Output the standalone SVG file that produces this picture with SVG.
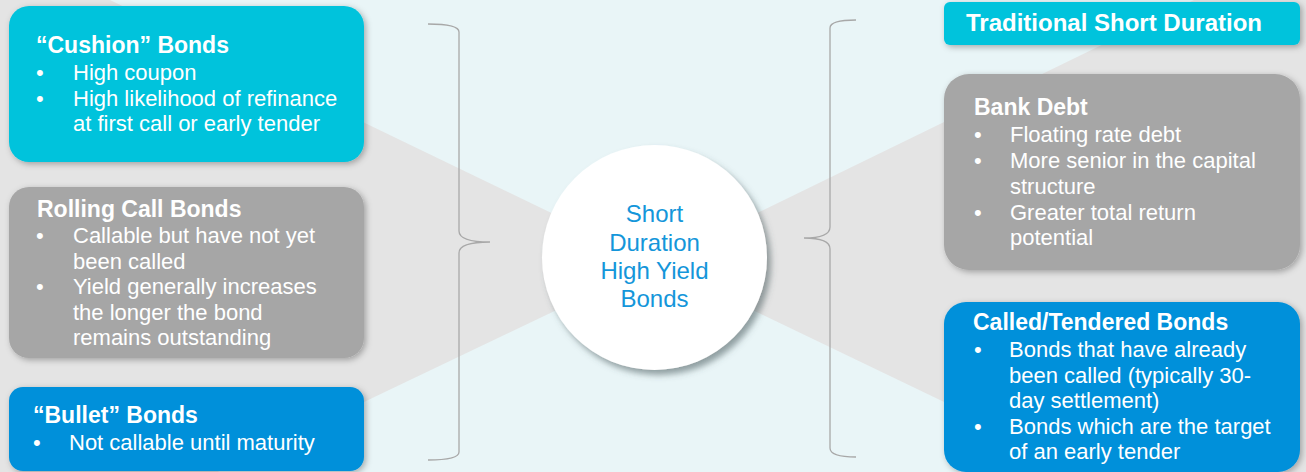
<svg xmlns="http://www.w3.org/2000/svg" width="1306" height="472" viewBox="0 0 1306 472">
<defs>
<style>
.t{font-family:"Liberation Sans",Arial,sans-serif;fill:#fff;font-size:22px}
.h{font-family:"Liberation Sans",Arial,sans-serif;fill:#fff;font-size:23px;font-weight:bold}
.c{font-family:"Liberation Sans",Arial,sans-serif;fill:#1496DA;font-size:24px;text-anchor:middle}
.brace{fill:none;stroke:#A8A8A8;stroke-width:1.3}
.cyan{fill:#00C3DC}
.gray{fill:#A6A6A6}
.blue{fill:#0090DA}
</style>
<filter id="sh" x="-10%" y="-10%" width="125%" height="130%">
<feDropShadow dx="2" dy="2" stdDeviation="3" flood-color="#000" flood-opacity="0.3"/>
</filter>
<filter id="shc" x="-20%" y="-20%" width="145%" height="145%">
<feDropShadow dx="4" dy="5" stdDeviation="3" flood-color="#4a5a5c" flood-opacity="0.55"/>
</filter>
</defs>
<rect x="0" y="0" width="1306" height="472" fill="#E9F5F7"/>
<polygon points="0,0 110,0 655,263 0,576" fill="#E4E4E4"/>
<polygon points="1306,0 1194,0 655,263 1306,576" fill="#E4E4E4"/>

<g id="connectors">
<path class="brace" d="M428,24 Q459,24 459,32 L459,231 Q459,242 490,242 Q459,242 459,253 L459,452 Q459,460 428,460"/>
<path class="brace" d="M856,20 Q830,20 830,28 L830,227 Q830,238 804,238 Q830,238 830,249 L830,448 Q830,457 856,457"/>
</g>

<g id="center">
<circle cx="654.5" cy="257.5" r="112.5" fill="#fff" filter="url(#shc)"/>
<text class="c" x="654.5" y="222">Short</text>
<text class="c" x="654.5" y="251">Duration</text>
<text class="c" x="654.5" y="279">High Yield</text>
<text class="c" x="654.5" y="307">Bonds</text>
</g>

<g id="cushion">
<rect class="cyan" x="9" y="6" width="355" height="156" rx="20" filter="url(#sh)"/>
<text class="h" x="36" y="53">“Cushion” Bonds</text>
<text class="t" x="36" y="80">•</text><text class="t" x="73" y="80">High coupon</text>
<text class="t" x="36" y="106">•</text><text class="t" x="73" y="106">High likelihood of refinance</text>
<text class="t" x="73" y="131">at first call or early tender</text>
</g>

<g id="rolling">
<rect class="gray" x="9" y="187" width="355" height="171" rx="20" filter="url(#sh)"/>
<text class="h" x="37" y="217">Rolling Call Bonds</text>
<text class="t" x="36" y="243">•</text><text class="t" x="73" y="243">Callable but have not yet</text>
<text class="t" x="73" y="269">been called</text>
<text class="t" x="36" y="294">•</text><text class="t" x="73" y="294">Yield generally increases</text>
<text class="t" x="73" y="320">the longer the bond</text>
<text class="t" x="73" y="345">remains outstanding</text>
</g>

<g id="bullet">
<rect class="blue" x="9" y="387" width="355" height="84" rx="14" filter="url(#sh)"/>
<text class="h" x="33" y="423">“Bullet” Bonds</text>
<text class="t" x="33" y="450">•</text><text class="t" x="69" y="450">Not callable until maturity</text>
</g>

<g id="traditional">
<rect class="cyan" x="944" y="2" width="356" height="43" rx="6" filter="url(#sh)"/>
<text class="h" x="966" y="31" style="font-size:24px">Traditional Short Duration</text>
</g>

<g id="bankdebt">
<rect class="gray" x="944" y="74" width="356" height="196" rx="25" filter="url(#sh)"/>
<text class="h" x="974" y="115">Bank Debt</text>
<text class="t" x="974" y="142">•</text><text class="t" x="1010" y="142">Floating rate debt</text>
<text class="t" x="974" y="168">•</text><text class="t" x="1010" y="168">More senior in the capital</text>
<text class="t" x="1010" y="194">structure</text>
<text class="t" x="974" y="220">•</text><text class="t" x="1010" y="220">Greater total return</text>
<text class="t" x="1010" y="245">potential</text>
</g>

<g id="called">
<rect class="blue" x="944" y="302" width="356" height="170" rx="22" filter="url(#sh)"/>
<text class="h" x="973" y="330">Called/Tendered Bonds</text>
<text class="t" x="974" y="357">•</text><text class="t" x="1009" y="357">Bonds that have already</text>
<text class="t" x="1009" y="383">been called (typically 30-</text>
<text class="t" x="1009" y="408">day settlement)</text>
<text class="t" x="974" y="434">•</text><text class="t" x="1009" y="434">Bonds which are the target</text>
<text class="t" x="1009" y="459">of an early tender</text>
</g>
</svg>
